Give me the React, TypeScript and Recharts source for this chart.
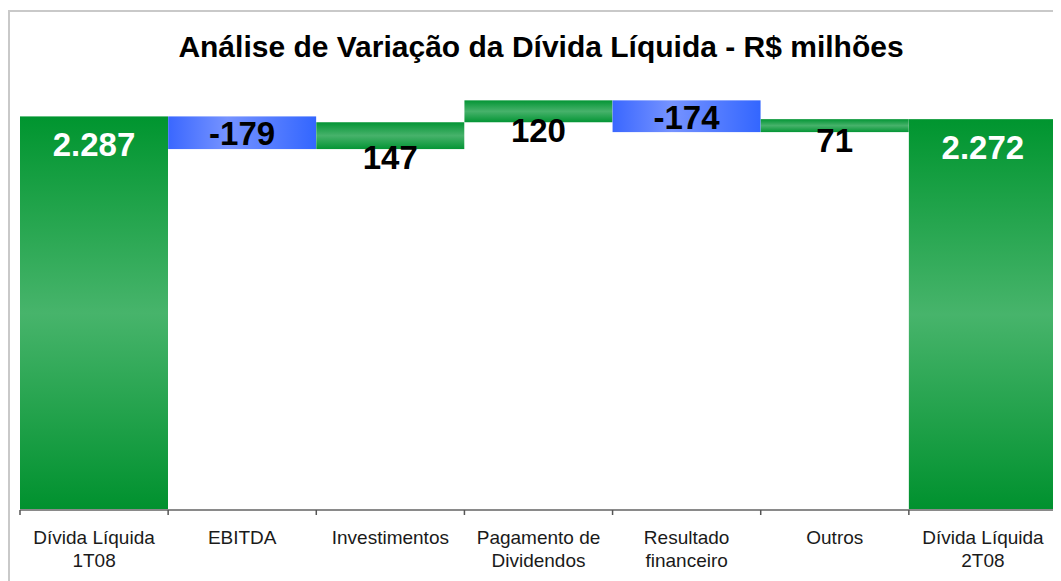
import React from 'react';
import { BarChart, Bar, XAxis, YAxis } from 'recharts';

const CATEGORIES = [
  'Dívida Líquida\n1T08',
  'EBITDA',
  'Investimentos',
  'Pagamento de\nDividendos',
  'Resultado\nfinanceiro',
  'Outros',
  'Dívida Líquida\n2T08',
];
const OPENING_DEBT = 2287;
const VARIATIONS = [-179, 147, 120, -174, 71];
const CLOSING_DEBT = 2272;

const AXIS_MIN = 130;
const AXIS_MAX = 2640;

const W = 1051;
const H = 569;
const MARGIN = { top: 40, right: 4, left: 10, bottom: 0 };
const XAXIS_H = 71;
const PLOT_BOTTOM = H - MARGIN.bottom - XAXIS_H;
const BAND = (W - MARGIN.left - MARGIN.right) / CATEGORIES.length;
const FONT = '"Liberation Sans", Arial, Helvetica, sans-serif';

type Row = { name: string; range: [number, number]; value: number; kind: 'total' | 'up' | 'down' };

function formatBR(v: number): string {
  const sign = v < 0 ? '-' : '';
  const s = String(Math.abs(Math.round(v)));
  return sign + s.replace(/\B(?=(\d{3})+(?!\d))/g, '.');
}

function buildRows(): Row[] {
  const rows: Row[] = [];
  rows.push({ name: CATEGORIES[0], range: [AXIS_MIN, OPENING_DEBT], value: OPENING_DEBT, kind: 'total' });
  let level = OPENING_DEBT;
  VARIATIONS.forEach((d, i) => {
    const next = level + d;
    rows.push({
      name: CATEGORIES[i + 1],
      range: [Math.min(level, next), Math.max(level, next)],
      value: d,
      kind: d < 0 ? 'down' : 'up',
    });
    level = next;
  });
  rows.push({ name: CATEGORIES[CATEGORIES.length - 1], range: [AXIS_MIN, CLOSING_DEBT], value: CLOSING_DEBT, kind: 'total' });
  return rows;
}

const rows = buildRows();

const FILLS: Record<string, string> = {
  total: 'url(#gTotal)',
  up: 'url(#gUp)',
  down: 'url(#gDown)',
};

function WaterfallShape(props: any) {
  const { x, y, width, height, payload } = props;
  if (width == null || height == null) return null;
  const kind = payload.kind as string;
  let ty: number;
  let color = '#000';
  if (kind === 'total') {
    ty = y + 28;
    color = '#ffffff';
  } else if (kind === 'down') {
    ty = y + height / 2 + 1;
  } else {
    ty = y + height + 8;
  }
  return (
    <g>
      <rect x={x} y={y} width={width} height={height} fill={FILLS[kind]} />
      <text
        x={x + width / 2}
        y={ty}
        textAnchor="middle"
        dominantBaseline="central"
        fontFamily={FONT}
        fontWeight="bold"
        fontSize={33}
        fill={color}
      >
        {formatBR(payload.value)}
      </text>
    </g>
  );
}

function CategoryTick(props: any) {
  const { x, payload, index } = props;
  const lines = String(payload.value).split('\n');
  const isLast = index === CATEGORIES.length - 1;
  return (
    <g>
      <line x1={x - BAND / 2} x2={x - BAND / 2} y1={PLOT_BOTTOM} y2={PLOT_BOTTOM + 5} stroke="#555" strokeWidth={1.5} />
      {isLast && (
        <line x1={x + BAND / 2} x2={x + BAND / 2} y1={PLOT_BOTTOM} y2={PLOT_BOTTOM + 5} stroke="#555" strokeWidth={1.5} />
      )}
      {lines.map((ln, i) => (
        <text
          key={i}
          x={x}
          y={PLOT_BOTTOM + 34 + i * 23}
          textAnchor="middle"
          fontFamily={FONT}
          fontSize={19}
          fill="#1a1a1a"
        >
          {ln}
        </text>
      ))}
    </g>
  );
}

export default function App() {
  return (
    <div
      style={{
        position: 'relative',
        marginTop: 2,
        width: 1053,
        height: 571,
        borderTop: '2px solid #c9c9c9',
        borderLeft: '2px solid #c9c9c9',
        boxSizing: 'border-box',
        background: '#fff',
        overflow: 'hidden',
      }}
    >
      <div
        style={{
          position: 'absolute',
          left: 0,
          top: 18,
          width: 1062,
          textAlign: 'center',
          fontFamily: FONT,
          fontWeight: 'bold',
          fontSize: 30,
          lineHeight: '34px',
          color: '#000',
          whiteSpace: 'nowrap',
        }}
      >
        Análise de Variação da Dívida Líquida - R$ milhões
      </div>
      <BarChart width={W} height={H} data={rows} margin={MARGIN} barCategoryGap={0} barGap={0}>
        <defs>
          <linearGradient id="gTotal" x1="0" y1="0" x2="0" y2="1">
            <stop offset="0%" stopColor="#00952f" />
            <stop offset="50%" stopColor="#47b46b" />
            <stop offset="100%" stopColor="#00912e" />
          </linearGradient>
          <linearGradient id="gUp" x1="0" y1="0" x2="0" y2="1">
            <stop offset="0%" stopColor="#049535" />
            <stop offset="50%" stopColor="#47b26b" />
            <stop offset="100%" stopColor="#049535" />
          </linearGradient>
          <linearGradient id="gDown" x1="0" y1="0" x2="1" y2="0">
            <stop offset="0%" stopColor="#3a67ff" />
            <stop offset="40%" stopColor="#7693ff" />
            <stop offset="100%" stopColor="#3366ff" />
          </linearGradient>
        </defs>
        <XAxis
          dataKey="name"
          interval={0}
          height={XAXIS_H}
          axisLine={{ stroke: '#8a8a8a', strokeWidth: 2 }}
          tickLine={false}
          tick={<CategoryTick />}
        />
        <YAxis hide domain={[AXIS_MIN, AXIS_MAX]} allowDataOverflow />
        <Bar dataKey="range" isAnimationActive={false} shape={<WaterfallShape />} />
      </BarChart>
    </div>
  );
}
